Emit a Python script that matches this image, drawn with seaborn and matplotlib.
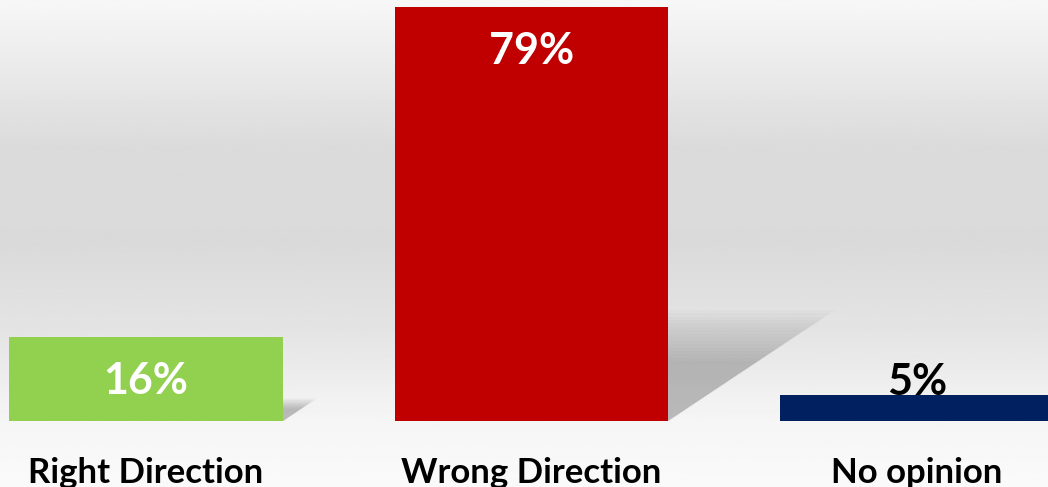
import numpy as np
import pandas as pd
import seaborn as sns
import matplotlib.pyplot as plt
from matplotlib.patches import Polygon

# data
categories = ["Right Direction", "Wrong Direction", "No opinion"]
values = [16, 79, 5]
labels = ["16%", "79%", "5%"]
bar_colors = ["#92d050", "#c00000", "#002060"]
label_colors = ["white", "white", "black"]

df = pd.DataFrame({"cat": categories, "val": values})

sns.set_theme(style="white")
plt.rcParams['font.family'] = ['Lato', 'DejaVu Sans']

fig = plt.figure(figsize=(10.48, 4.87), dpi=100)
ax = fig.add_axes([0, 0, 1, 1])

xlim = (-0.379, 2.340)
ylim = (-12.6, 80.3)

# background gradient (top -> bottom)
rows = np.linspace(0, 1, 200)
ys = [0.0, 0.12, 0.3, 0.5, 0.68, 0.86, 1.0]
gs = [247, 236, 219, 218, 228, 245, 250]
grey = np.interp(rows, ys, gs) / 255.0
bg = np.repeat(grey[:, None], 2, axis=1)
ax.imshow(bg, cmap="gray", vmin=0, vmax=1, aspect="auto",
          extent=(xlim[0], xlim[1], ylim[0], ylim[1]), zorder=0)

sns.barplot(data=df, x="cat", y="val", hue="cat", palette=bar_colors,
            width=0.71, saturation=1, legend=False, ax=ax, zorder=3,
            linewidth=0, edgecolor="none")

# soft shadows behind bars
px_x = 385.5   # px per category
px_y = 5.24    # px per percent
for i, v in enumerate(values):
    xr = i + 0.355
    h = 0.24 * v
    dx = 0.36 * v * px_y / px_x
    for s in np.linspace(1.12, 0.6, 16):
        tri = Polygon([(xr, 0), (xr, h * s), (xr + dx * s, h * s)],
                      closed=True, facecolor="#7a7a7a", edgecolor="none",
                      alpha=0.035, zorder=2)
        ax.add_patch(tri)

# value labels
for i, v in enumerate(values):
    y = max(v - 8.4, 7.4)
    ax.text(i, y, labels[i], ha="center", va="center", fontsize=31,
            fontweight="bold", color=label_colors[i], zorder=5)

# category labels
for i, c in enumerate(categories):
    ax.text(i, -10.0, c, ha="center", va="center", fontsize=25,
            fontweight="bold", color="black", zorder=5)

ax.set_xlim(*xlim)
ax.set_ylim(*ylim)
ax.axis("off")

fig.savefig("out.png", dpi=100)
